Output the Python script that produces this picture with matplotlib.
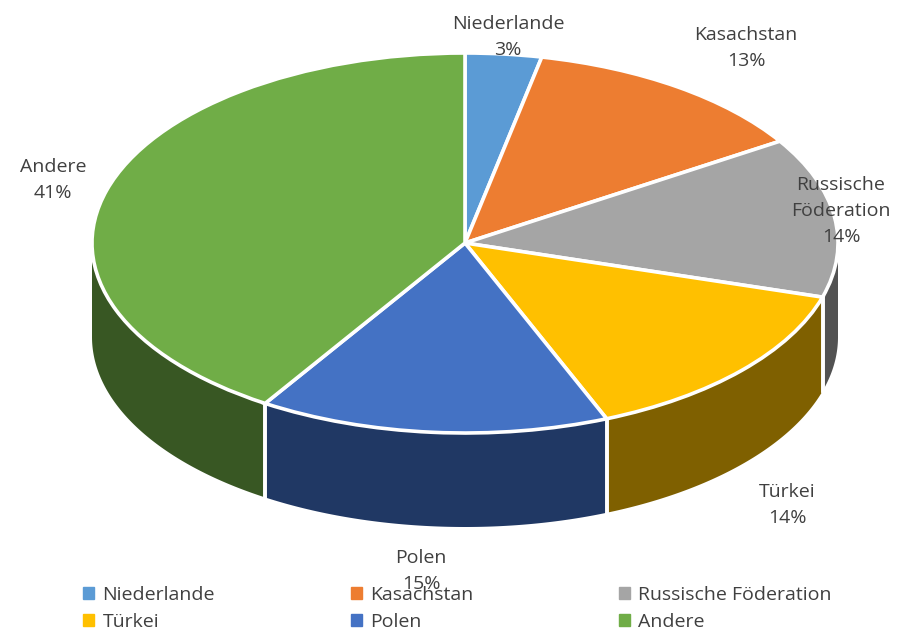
import numpy as np
import matplotlib
matplotlib.use('Agg')
import matplotlib.pyplot as plt
from matplotlib.patches import Patch

plt.rcParams['font.family'] = ['Open Sans', 'DejaVu Sans']

labels = ['Niederlande', 'Kasachstan', 'Russische Föderation', 'Türkei', 'Polen', 'Andere']
values = [3.3, 12.7, 13.6, 14.2, 15.2, 41.0]
percents = ['3%', '13%', '14%', '14%', '15%', '41%']
colors = ['#5B9BD5', '#ED7D31', '#A5A5A5', '#FFC000', '#4472C4', '#70AD47']
side_colors = ['#2E4E6B', '#773F18', '#525252', '#7F6000', '#203864', '#385723']

W, H = 899, 633
cx, cy = 465, 243      # pie centre in pixels
rx, ry = 373, 190      # squashed radii
depth = 94 / ry

fig = plt.figure(figsize=(W / 100, H / 100), dpi=100)
ax = fig.add_axes([0, 0, 1, 1])

# side wall, only the front half of the pie shows
edges = np.cumsum([0] + values) / sum(values) * 2 * np.pi
for i in range(len(values)):
    a0 = max(edges[i], np.pi / 2)
    a1 = min(edges[i + 1], 3 * np.pi / 2)
    if a1 <= a0:
        continue
    t = np.linspace(a0, a1, 100)
    x = np.sin(t)
    y = np.cos(t)
    ax.fill(np.r_[x, x[::-1]], np.r_[y, y[::-1] - depth], color=side_colors[i], lw=0, zorder=1)
    for a in (edges[i], edges[i + 1]):
        if np.pi / 2 < a < 3 * np.pi / 2:
            ax.plot([np.sin(a)] * 2, [np.cos(a), np.cos(a) - depth], color='white', lw=2.6, zorder=2)

wedges, _ = ax.pie(values, colors=colors, startangle=90, counterclock=False,
                   wedgeprops={'edgecolor': 'white', 'linewidth': 2.6, 'zorder': 3})
ax.set_aspect('auto')
ax.set_xlim(-cx / rx, (W - cx) / rx)
ax.set_ylim((cy - H) / ry, cy / ry)
ax.axis('off')

# label centres in pixels
label_pos = [(508, 37), (746, 48), (841, 211), (787, 505), (421, 571), (53, 180)]
label_names = ['Niederlande', 'Kasachstan', 'Russische\nFöderation', 'Türkei', 'Polen', 'Andere']
for (px, py), name, pct in zip(label_pos, label_names, percents):
    fig.text(px / W, 1 - py / H, name + '\n' + pct, ha='center', va='center', fontsize=14,
             color='#404040', linespacing=1.6, zorder=5)

# one legend per column, so the columns sit at even distances like the original
column_x = [81, 349, 617]
for col, lx in enumerate(column_x):
    handles = [Patch(color=colors[i], label=labels[i]) for i in (col, col + 3)]
    fig.legend(handles=handles, ncol=1, frameon=False, fontsize=14, labelcolor='#404040',
               loc='lower left', bbox_to_anchor=(lx / W, 0), handlelength=0.55, handleheight=0.55,
               handletextpad=0.45, labelspacing=0.46, borderpad=0.1, borderaxespad=0)

fig.savefig('out.png', dpi=100)
